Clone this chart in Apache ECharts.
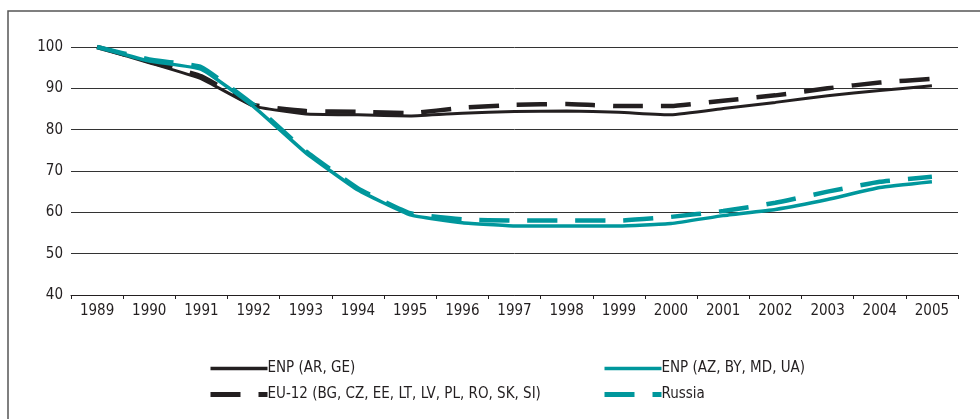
<!DOCTYPE html>
<html>
<head>
<meta charset="utf-8">
<script src="https://cdn.jsdelivr.net/npm/echarts@6/dist/echarts.min.js"></script>
<style>
  html, body { margin: 0; padding: 0; background: #fff; }
  #chart { width: 980px; height: 419px; }
</style>
</head>
<body>
<div id="chart"></div>
<script>
const years = ['1989', '1990', '1991', '1992', '1993', '1994', '1995', '1996', '1997',
  '1998', '1999', '2000', '2001', '2002', '2003', '2004', '2005']

// index, 1989 = 100
const enpArGe = [100, 96.2, 92.3, 85.7, 83.8, 83.6, 83.3, 84.0, 84.4, 84.5, 84.2, 83.6, 85.1, 86.6, 88.2, 89.5, 90.6]
const eu12 = [100, 96.5, 92.9, 86.0, 84.5, 84.3, 84.0, 85.3, 86.0, 86.2, 85.7, 85.7, 87.0, 88.3, 90.0, 91.4, 92.3]
const enpAzByMdUa = [100, 96.6, 94.6, 85.6, 74.4, 65.4, 59.4, 57.5, 56.7, 56.7, 56.7, 57.3, 59.2, 60.7, 63.1, 66.0, 67.4]
const russia = [100, 97.0, 95.1, 86.0, 74.8, 65.8, 59.8, 58.3, 58.0, 58.0, 58.0, 58.9, 60.3, 62.3, 65.0, 67.4, 68.6]

const yTicks = [40, 50, 60, 70, 80, 90, 100]

const FONT = '"Liberation Sans Narrow", "DejaVu Sans Condensed", sans-serif'
const INK = '#231f20'
const TEAL = '#00979c'

const chart = echarts.init(document.getElementById('chart'))

const lineSeries = (name, data, color, width, dashed) => ({
  name,
  type: 'line',
  data,
  symbol: 'none',
  smooth: 0.12,
  lineStyle: { color, width, type: dashed ? [30, 18] : 'solid' },
  itemStyle: { color },
  z: dashed ? 3 : 4
})

const legendBox = (left, items) => ({
  left,
  top: 361,
  padding: 0,
  orient: 'vertical',
  itemWidth: 57,
  itemHeight: 14,
  itemGap: 11,
  itemStyle: { opacity: 0 },
  data: items,
  textStyle: { fontFamily: FONT, fontSize: 15, color: INK, padding: [0, 0, 0, -5] }
})

chart.setOption({
  animation: false,
  textStyle: { fontFamily: FONT, color: INK },
  graphic: [
    {
      type: 'rect',
      shape: { x: 8, y: 11, width: 1000, height: 440 },
      style: { fill: 'none', stroke: '#555', lineWidth: 1.5 },
      silent: true
    }
  ],
  grid: { left: 71, right: 22, top: 47, bottom: 124 },
  legend: [
    legendBox(208, [
      { name: 'ENP (AR, GE)', lineStyle: { width: 3.5 } },
      { name: 'EU-12 (BG, CZ, EE, LT, LV, PL, RO, SK, SI)', lineStyle: { width: 5 } }
    ]),
    legendBox(602, [
      { name: 'ENP (AZ, BY, MD, UA)', lineStyle: { width: 3.5 } },
      { name: 'Russia', lineStyle: { width: 5 } }
    ])
  ],
  xAxis: {
    type: 'category',
    data: years,
    boundaryGap: true,
    axisLine: { lineStyle: { color: INK, width: 1 } },
    axisTick: { show: true, length: 4, lineStyle: { color: INK } },
    axisLabel: { fontFamily: FONT, fontSize: 15, color: INK, margin: 9 }
  },
  yAxis: {
    type: 'value',
    min: yTicks[0],
    max: yTicks[yTicks.length - 1],
    interval: 10,
    axisLine: { show: false },
    axisTick: { show: false },
    axisLabel: { fontFamily: FONT, fontSize: 15, color: INK, margin: 8 },
    splitLine: { lineStyle: { color: '#333', width: 1 } }
  },
  series: [
    lineSeries('ENP (AR, GE)', enpArGe, INK, 3, false),
    lineSeries('EU-12 (BG, CZ, EE, LT, LV, PL, RO, SK, SI)', eu12, INK, 4.5, true),
    lineSeries('ENP (AZ, BY, MD, UA)', enpAzByMdUa, TEAL, 3.5, false),
    lineSeries('Russia', russia, TEAL, 4.5, true)
  ]
})

window.addEventListener('resize', () => chart.resize())
</script>
</body>
</html>
